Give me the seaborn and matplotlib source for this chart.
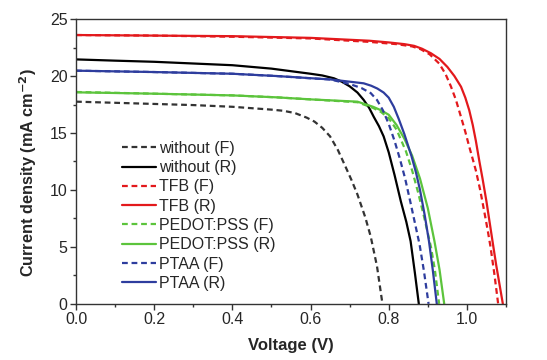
import numpy as np
import pandas as pd
import matplotlib
matplotlib.use("Agg")
import matplotlib.pyplot as plt
from matplotlib.ticker import MultipleLocator
import seaborn as sns

sns.set_theme(style="white")
plt.rcParams['font.family'] = ['Liberation Sans', 'DejaVu Sans']

# ---- data (V in volts, J in mA cm^-2) ----
v_without_f = [0.0, 0.1, 0.2, 0.3, 0.4, 0.5, 0.53, 0.56, 0.59, 0.61, 0.63, 0.65, 0.67, 0.69, 0.705, 0.72, 0.74, 0.754, 0.77, 0.784]
j_without_f = [17.75, 17.65, 17.55, 17.45, 17.3, 17.05, 16.95, 16.75, 16.35, 16.0, 15.45, 14.7, 13.5, 12.0, 10.85, 9.6, 7.6, 5.9, 3.3, 0.0]

v_without_r = [0.0, 0.1, 0.2, 0.3, 0.4, 0.5, 0.6, 0.63, 0.66, 0.68, 0.70, 0.72, 0.736, 0.75, 0.762, 0.775, 0.787, 0.80, 0.815, 0.831, 0.845, 0.856, 0.867, 0.877]
j_without_r = [21.46, 21.35, 21.25, 21.1, 20.95, 20.65, 20.2, 20.05, 19.8, 19.5, 19.1, 18.55, 17.9, 17.2, 16.4, 15.6, 14.7, 13.3, 11.3, 9.0, 7.2, 5.5, 2.7, 0.0]

v_tfb_f = [0.0, 0.2, 0.4, 0.6, 0.75, 0.82, 0.86, 0.882, 0.905, 0.929, 0.945, 0.959, 0.972, 0.985, 0.996, 1.006, 1.015, 1.023, 1.034, 1.045, 1.053, 1.06, 1.07, 1.08]
j_tfb_f = [23.6, 23.55, 23.45, 23.3, 23.0, 22.8, 22.6, 22.35, 21.9, 21.1, 20.2, 19.1, 17.9, 16.4, 15.1, 13.8, 12.7, 11.7, 10.0, 8.0, 6.5, 5.1, 2.7, 0.0]

v_tfb_r = [0.0, 0.2, 0.4, 0.6, 0.75, 0.8, 0.84, 0.865, 0.885, 0.908, 0.93, 0.95, 0.968, 0.985, 0.996, 1.006, 1.015, 1.023, 1.032, 1.04, 1.05, 1.058, 1.066, 1.075, 1.084, 1.092]
j_tfb_r = [23.6, 23.55, 23.5, 23.35, 23.1, 22.95, 22.8, 22.65, 22.4, 22.0, 21.5, 20.8, 20.0, 19.06, 18.1, 17.0, 15.7, 14.3, 12.5, 11.0, 9.0, 7.2, 5.4, 3.4, 1.6, 0.0]

v_pedot_f = [0.0, 0.2, 0.4, 0.513, 0.6, 0.72, 0.76, 0.78, 0.80, 0.82, 0.844, 0.86, 0.875, 0.89, 0.908, 0.918, 0.929]
j_pedot_f = [18.6, 18.45, 18.3, 18.13, 17.95, 17.7, 17.2, 16.85, 16.3, 15.3, 13.4, 11.7, 9.8, 7.7, 5.0, 3.0, 0.0]

v_pedot_r = [0.0, 0.2, 0.4, 0.513, 0.6, 0.72, 0.76, 0.78, 0.80, 0.82, 0.84, 0.86, 0.88, 0.90, 0.917, 0.93, 0.942]
j_pedot_r = [18.57, 18.45, 18.3, 18.13, 17.95, 17.75, 17.3, 17.0, 16.6, 15.7, 14.5, 13.0, 11.0, 8.4, 5.5, 3.0, 0.0]

v_ptaa_f = [0.0, 0.2, 0.4, 0.513, 0.6, 0.65, 0.7, 0.73, 0.754, 0.77, 0.785, 0.80, 0.815, 0.828, 0.842, 0.855, 0.867, 0.879, 0.89, 0.902]
j_ptaa_f = [20.47, 20.35, 20.2, 20.0, 19.8, 19.7, 19.3, 18.95, 18.5, 17.9, 17.0, 15.8, 14.3, 12.8, 11.0, 9.0, 7.1, 5.2, 2.9, 0.0]

v_ptaa_r = [0.0, 0.2, 0.4, 0.513, 0.651, 0.736, 0.755, 0.771, 0.787, 0.80, 0.813, 0.826, 0.84, 0.858, 0.87, 0.88, 0.892, 0.903, 0.913, 0.923]
j_ptaa_r = [20.47, 20.35, 20.2, 20.0, 19.7, 19.36, 19.15, 18.9, 18.55, 18.1, 17.3, 16.2, 14.9, 13.0, 11.5, 10.0, 7.8, 5.5, 2.9, 0.0]

labels = ["without (F)", "without (R)", "TFB (F)", "TFB (R)",
          "PEDOT:PSS (F)", "PEDOT:PSS (R)", "PTAA (F)", "PTAA (R)"]
voltages = [v_without_f, v_without_r, v_tfb_f, v_tfb_r, v_pedot_f, v_pedot_r, v_ptaa_f, v_ptaa_r]
currents = [j_without_f, j_without_r, j_tfb_f, j_tfb_r, j_pedot_f, j_pedot_r, j_ptaa_f, j_ptaa_r]

colors = ["#333333", "#000000", "#e3191c", "#e3191c", "#5cc43c", "#5cc43c", "#2e3d9e", "#2e3d9e"]
dash = (0, (2.6, 1.7))
styles = [dash, "-", dash, "-", dash, "-", dash, "-"]

fig = plt.figure(figsize=(5.47, 3.60), dpi=100)
ax = fig.add_axes([0.139, 0.156, 0.786, 0.791])

for lab, v, j, c, ls in zip(labels, voltages, currents, colors, styles):
    df = pd.DataFrame({"V": v, "J": j})
    sns.lineplot(data=df, x="V", y="J", ax=ax, color=c, linestyle=ls,
                 linewidth=1.6, label=lab, estimator=None, sort=False)

ax.set_xlim(0, 1.1)
ax.set_ylim(0, 25)
ax.xaxis.set_major_locator(MultipleLocator(0.2))
ax.xaxis.set_minor_locator(MultipleLocator(0.1))
ax.yaxis.set_major_locator(MultipleLocator(5))
ax.yaxis.set_minor_locator(MultipleLocator(2.5))
ax.tick_params(which="both", direction="out", top=False, right=False,
               bottom=True, left=True, color="#333333")
ax.tick_params(which="major", length=4, width=1, labelsize=11.5, pad=2)
ax.tick_params(which="minor", length=2.5, width=1)
ax.set_xticklabels([f"{t:.1f}" for t in ax.get_xticks()])
for s in ax.spines.values():
    s.set_color("#333333")
    s.set_linewidth(1.0)

ax.set_xlabel("Voltage (V)", fontsize=12, fontweight="bold", labelpad=8)
ax.set_ylabel("Current density (mA cm$^{\\mathbf{-2}}$)", fontsize=11.7, fontweight="bold")
ax.yaxis.set_label_coords(-0.086, 0.46)

leg = ax.legend(loc="upper left", bbox_to_anchor=(0.092, 0.595), frameon=False,
                fontsize=11.5, handlelength=2.1, handletextpad=0.2,
                labelspacing=0.27, borderaxespad=0)

fig.savefig("out.png", dpi=100)
